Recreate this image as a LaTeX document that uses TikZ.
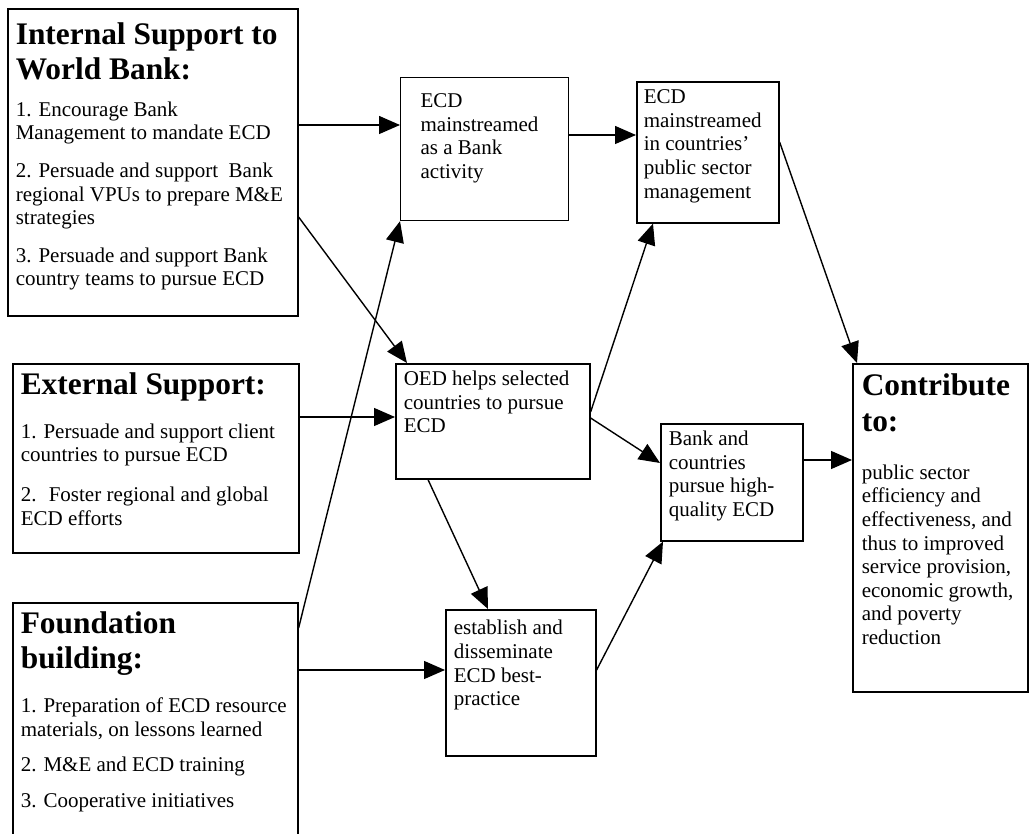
\documentclass[tikz,border=0pt]{standalone}
\usepackage{fontspec}
\setmainfont{Liberation Serif}
\usetikzlibrary{arrows.meta}

\newcommand{\bodyfont}{\fontsize{21}{23.6}\selectfont}
\newcommand{\headfont}{\fontsize{31.4}{36}\selectfont\bfseries}
% width, height, first baseline, left inset, text
\newcommand{\boxtext}[5]{\parbox[t][#2][t]{#1}{\bodyfont\leftskip=#4\rightskip=0pt plus 1fil\parindent=0pt\rule{0pt}{#3}#5}}
\newcommand{\headgap}[1][20pt]{\par\vspace{#1}}
\newcommand{\itemgap}[1][14pt]{\par\vspace{#1}}

\begin{document}
\begin{tikzpicture}[x=1pt, y=-1pt, >=Stealth,
  box/.style={draw, line width=1.6pt, anchor=north west, inner sep=0pt},
  flow/.style={-{Triangle[length=21pt, width=18pt]}, line width=1.4pt}]
  \useasboundingbox (0,0) rectangle (1029,834);
  \clip (0,0) rectangle (1029,834);

  % left column: what is supported
  \node[box] (internal) at (7,8) {\boxtext{290pt}{307pt}{36pt}{8pt}{%
    {\headfont\baselineskip=35pt Internal Support to\\World Bank:\par}\headgap[13pt]
    1. Encourage Bank\\Management to mandate ECD\itemgap
    2. Persuade and support~ Bank\\regional VPUs to prepare M\&E\\strategies\itemgap
    3. Persuade and support Bank\\country teams to pursue ECD}};
  \node[box] (external) at (12,363) {\boxtext{286pt}{189pt}{31pt}{8pt}{%
    {\headfont External Support:\par}\headgap
    1. Persuade and support client\\countries to pursue ECD\itemgap[16pt]
    2.~ Foster regional and global\\ECD efforts}};
  \node[box] (foundation) at (12,602) {\boxtext{285pt}{258pt}{31pt}{8pt}{%
    {\headfont\baselineskip=35pt Foundation\\building:\par}\headgap
    1. Preparation of ECD resource\\materials, on lessons learned\itemgap[12pt]
    2. M\&E and ECD training\itemgap[12pt]
    3. Cooperative initiatives}};

  % middle: outcomes
  \node[box, line width=1.2pt] (ecdbank) at (400,77) {\boxtext{168pt}{143pt}{30pt}{20pt}{%
    ECD\\mainstreamed\\as a Bank\\activity}};
  \node[box] (ecdcountries) at (636,81) {\boxtext{142pt}{141pt}{22pt}{7pt}{%
    ECD\\mainstreamed\\in countries’\\public sector\\management}};
  \node[box] (oed) at (395,363) {\boxtext{194pt}{115pt}{22pt}{8pt}{%
    OED helps selected\\countries to pursue\\ECD}};
  \node[box] (bankcountries) at (660,423) {\boxtext{142pt}{117pt}{22pt}{8pt}{%
    Bank and\\countries\\pursue high-\\quality ECD}};
  \node[box] (establish) at (445,609) {\boxtext{150pt}{146pt}{25pt}{8pt}{%
    establish and\\disseminate\\ECD best-\\practice}};

  % right: goal
  \node[box] (contribute) at (852,363) {\boxtext{175pt}{328pt}{32pt}{9pt}{%
    {\headfont Contribute\\to:\par}\headgap[24pt]
    public sector\\efficiency and\\effectiveness, and\\thus to improved\\service provision,\\economic growth,\\and poverty\\reduction}};

  % arrows
  \draw[flow] (internal.east |- 0,125) -- (ecdbank.west |- 0,125);
  \draw[flow] (internal.east |- 0,217) -- ([xshift=12pt]oed.north west);
  \draw[flow] (external.east |- 0,417) -- (oed.west |- 0,417);
  \draw[flow] ([yshift=-26pt]foundation.north east) -- (ecdbank.south west);
  \draw[flow] (foundation.east |- 0,670) -- (establish.west |- 0,670);
  \draw[flow] (ecdbank.east |- 0,135) -- (ecdcountries.west |- 0,135);
  \draw[flow] (oed.east |- 0,412) -- ([xshift=17pt]ecdcountries.south west);
  \draw[flow] (oed.east |- 0,418) -- (bankcountries.west |- 0,463);
  \draw[flow] ([xshift=33pt]oed.south west) -- ([xshift=43pt]establish.north west);
  \draw[flow] (establish.east |- 0,670) -- ([xshift=3pt]bankcountries.south west);
  \draw[flow] (ecdcountries.east |- 0,142) -- ([xshift=5pt]contribute.north west);
  \draw[flow] (bankcountries.east |- 0,460) -- (contribute.west |- 0,460);
\end{tikzpicture}
\end{document}
